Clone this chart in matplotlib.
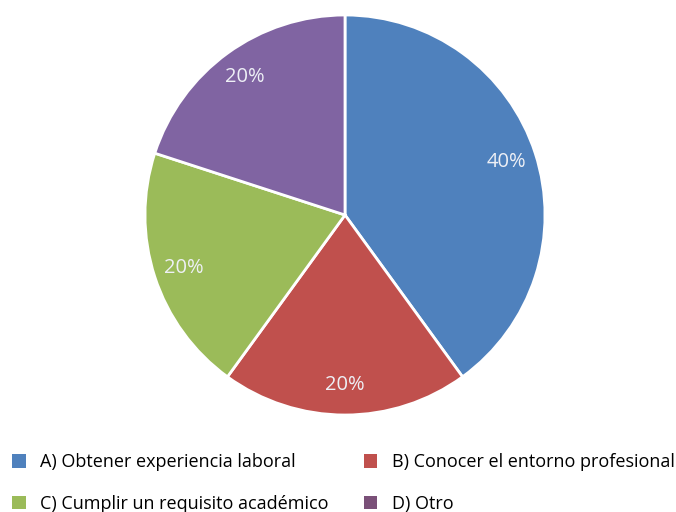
import matplotlib.pyplot as plt

labels = ['A) Obtener experiencia laboral', 'B) Conocer el entorno profesional',
          'C) Cumplir un requisito académico', 'D) Otro']
values = [40, 20, 20, 20]
colors = ['#4F81BD', '#C0504D', '#9BBB59', '#8064A2']
# legend swatches (the "Otro" swatch is a darker purple in the original)
legend_colors = ['#4F81BD', '#C0504D', '#9BBB59', '#7A5078']

fig = plt.figure(figsize=(6.76, 5.12), dpi=100)
# square axes holding the pie (pixel box 145..545 x 15..415)
ax = fig.add_axes([145 / 676, 97 / 512, 400 / 676, 400 / 512])

wedges, texts, autotexts = ax.pie(values, colors=colors, startangle=90, counterclock=False,
                                  autopct='%d%%', pctdistance=0.85,
                                  wedgeprops=dict(edgecolor='white', linewidth=2),
                                  textprops=dict(color='#eef0f6', fontsize=14.5, family='Open Sans'))
ax.set_xlim(-1, 1)
ax.set_ylim(-1, 1)

# legend filled row by row: A B / C D
order = [0, 2, 1, 3]
leg = fig.legend([wedges[i] for i in order], [labels[i] for i in order], ncol=2,
                 loc='lower left', bbox_to_anchor=(-4 / 676, -17 / 512),
                 frameon=False, handlelength=0.75, handleheight=0.75, handletextpad=0.8,
                 labelspacing=1.3, columnspacing=1.95,
                 prop=dict(family='Open Sans', size=13))
for h, i in zip(leg.legend_handles, order):
    h.set_edgecolor('none')
    h.set_facecolor(legend_colors[i])

fig.savefig('out.png', dpi=100)
